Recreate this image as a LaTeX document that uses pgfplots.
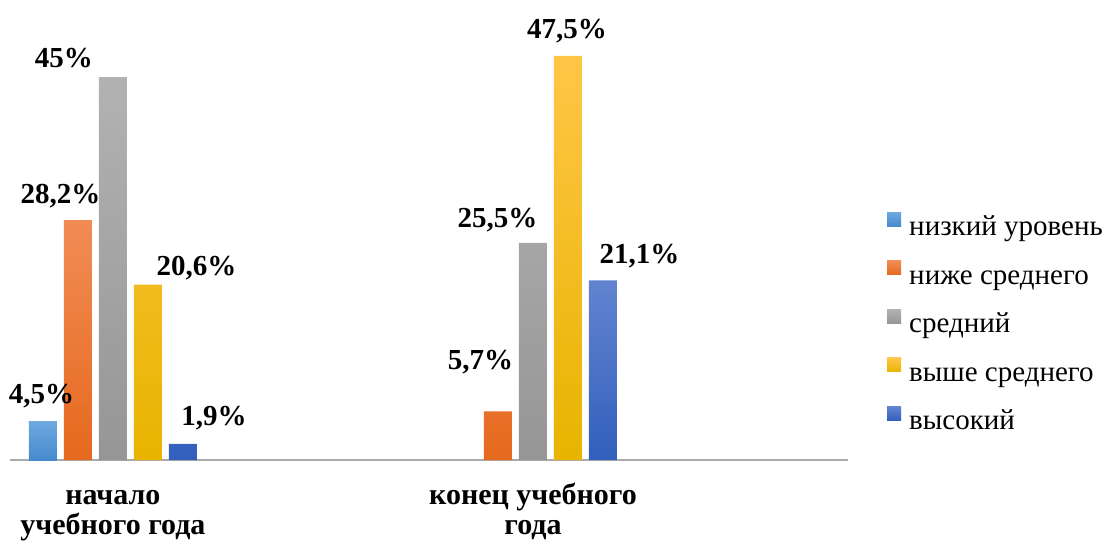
\documentclass[border=0pt]{standalone}
\usepackage{pgfplots}
\pgfplotsset{compat=1.18}
\usepackage{fontspec}
\setmainfont{Liberation Serif}
\definecolor{c1t}{RGB}{110,168,225}\definecolor{c1b}{RGB}{70,138,204}
\definecolor{c2t}{RGB}{241,140,85}\definecolor{c2b}{RGB}{230,105,30}
\definecolor{c3t}{RGB}{178,178,178}\definecolor{c3b}{RGB}{150,150,150}
\definecolor{c4t}{RGB}{255,198,70}\definecolor{c4b}{RGB}{232,180,0}
\definecolor{c5t}{RGB}{98,132,208}\definecolor{c5b}{RGB}{50,95,188}
\begin{document}
\begin{tikzpicture}
\useasboundingbox (-10pt,-82pt) rectangle (1097pt,460pt);
\begin{axis}[
  at={(0pt,0pt)}, anchor=south west,
  scale only axis, width=838pt, height=425.5pt,
  xmin=-0.245, xmax=1.75, ymin=0, ymax=50,
  axis x line*=bottom, axis y line=none,
  x axis line style={draw={rgb,255:red,170;green,170;blue,170}, line width=2pt},
  xtick={0,1}, ytick=\empty, major tick length=0pt,
  xticklabels={{\rule{0pt}{22pt}начало\\учебного года},{\rule{0pt}{22pt}конец учебного\\года}},
  xticklabel style={align=center, font=\bfseries\fontsize{30}{30}\selectfont, anchor=north, inner sep=0pt, yshift=-22pt},
  ybar=7pt, bar width=28pt,
  clip=false,
  visualization depends on={\thisrow{dx} \as \dx},
  visualization depends on={\thisrow{dy} \as \dy},
  nodes near coords={\pgfmathprintnumber[fixed,precision=1,use comma,assume math mode=true]{\pgfplotspointmeta}\%},
  every node near coord/.append style={font=\bfseries\fontsize{29}{30}\selectfont, anchor=base, xshift=\dx pt, yshift=\dy pt, inner sep=0pt, text=black},
  legend style={at={(1.043,0.318)}, anchor=west, draw=none, fill=none,
    font=\fontsize{29}{30}\selectfont,
    nodes={inner sep=0pt, text height=20pt, text depth=7pt},
    row sep=18pt, column sep=8pt},
  legend cell align=left,
  legend image code/.code={\path[#1, draw=none] (0pt,3pt) rectangle (14pt,17pt);},
]
\addplot[draw=none, top color=c1t, bottom color=c1b] table {
x y dx dy
0 4.5 -1.5 18
};
\addplot[draw=none, top color=c2t, bottom color=c2b] table {
x y dx dy
0 28.2 -17.5 17
1 5.7 -17.5 42
};
\addplot[draw=none, top color=c3t, bottom color=c3b] table {
x y dx dy
0 45 -49 10
1 25.5 -35.5 15
};
\addplot[draw=none, top color=c4t, bottom color=c4b] table {
x y dx dy
0 20.6 48.5 9
1 47.5 -1 17
};
\addplot[draw=none, top color=c5t, bottom color=c5b] table {
x y dx dy
0 1.9 31 18
1 21.1 36.5 17
};
\legend{низкий уровень, ниже среднего, средний, выше среднего, высокий}
\end{axis}
\end{tikzpicture}
\end{document}
